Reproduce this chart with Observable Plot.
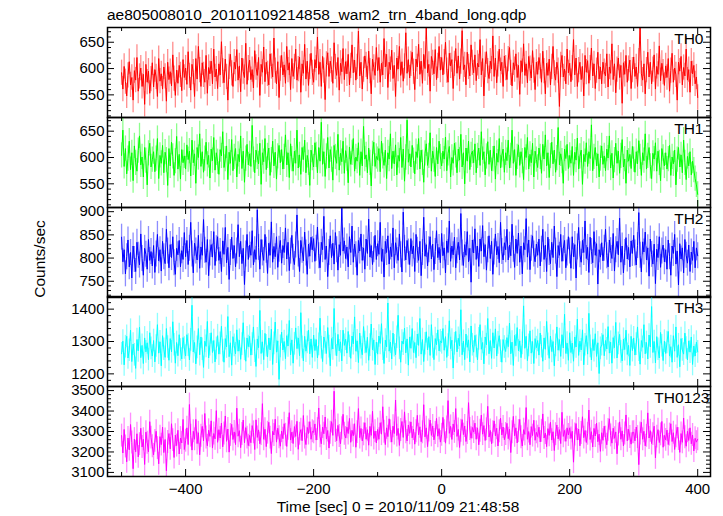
<!DOCTYPE html>
<html><head><meta charset="utf-8">
<script src="https://cdn.jsdelivr.net/npm/d3@7"></script>
<script src="https://cdn.jsdelivr.net/npm/@observablehq/plot@0.6"></script>
<style>
body{margin:0;background:#fff;}
#wrap{position:relative;width:723px;height:516px;overflow:hidden;font-family:"Liberation Sans",Arial,Helvetica,sans-serif;color:#000;background:#fff;}
.abs{position:absolute;white-space:nowrap;line-height:1;}
#title{left:107px;top:7px;font-size:15.5px;}
#xlabel{left:398px;top:499px;font-size:15.5px;transform:translateX(-50%);}
#ylabel{left:40px;top:259px;font-size:15.5px;transform:translate(-50%,-50%) rotate(-90deg);}
.panel{position:absolute;left:0;}
</style>
</head><body>
<div id="wrap">
  <div id="title" class="abs">ae805008010_20101109214858_wam2_trn_4band_long.qdp</div>
  <div id="ylabel" class="abs">Counts/sec</div>
  <div id="xlabel" class="abs">Time [sec] 0 = 2010/11/09 21:48:58</div>
</div>
<script>
// ---- data (count rate per 2 s bin) ----
const tStart = -500, tStep = 2;
const th0 = [
592,561,604,575,548,587,613,569,583,540,596,578,621,557,585,601,566,589,532,608,574,595,553,580,611,
565,598,584,547,619,576,590,561,603,585,538,612,579,594,567,626,581,549,597,572,606,588,558,617,583,
601,570,632,586,559,608,593,547,619,580,642,597,566,611,588,574,625,553,602,590,614,571,637,584,599,
562,609,588,651,595,573,618,584,540,603,627,591,566,612,599,636,578,605,556,620,594,583,648,570,601,
616,579,598,563,634,602,587,621,549,608,593,641,575,612,590,569,628,604,584,658,596,571,613,545,600,
625,588,607,572,642,597,611,560,619,585,603,637,578,599,622,555,609,591,646,580,614,568,603,629,592,
574,617,601,660,589,612,566,623,596,541,608,630,585,614,598,572,649,603,587,621,559,610,594,638,579,
613,590,627,569,605,645,592,616,578,603,671,586,612,561,598,624,607,580,633,595,552,618,602,587,640,
596,621,574,610,588,657,603,627,564,612,598,635,581,606,547,620,599,642,587,613,576,604,668,591,617,
582,609,631,594,560,618,603,646,589,614,572,627,600,679,592,608,557,623,611,590,636,579,605,642,597,
621,588,612,650,596,574,629,605,617,562,609,638,591,624,580,613,672,598,607,569,631,603,586,645,611,
592,626,577,610,603,655,588,619,548,607,632,595,581,614,599,662,585,620,573,608,637,596,612,566,624,
601,579,618,640,592,567,611,598,628,583,606,551,615,594,647,587,609,573,623,600,582,634,596,560,612,
589,621,604,574,633,595,552,610,587,618,569,603,642,591,578,612,596,528,607,625,584,599,571,637,592,
610,575,601,655,588,620,566,597,612,579,604,548,625,593,615,572,601,639,586,609,562,596,631,580,603,
571,612,594,586,628,565,603,591,647,579,609,554,598,620,583,606,534,611,589,625,574,600,616,562,597,
622,585,603,566,614,679,590,578,609,552,597,631,584,612,571,598,626,561,604,589,643,577,610,593,568,
605,583,619,557,596,629,574,601,588,540,612,595,623,569,602,586,637,578,598,555,614,590,606,571,584,
545];
const th1 = [
604,652,583,617,569,598,631,577,609,556,622,590,574,613,641,586,601,563,619,594,548,608,627,582,596,
611,573,598,636,560,604,589,623,571,610,595,547,617,584,629,602,566,593,640,578,606,559,615,590,603,
578,624,596,612,565,633,590,607,551,619,600,645,583,611,572,598,629,587,604,561,616,594,638,576,609,
592,568,615,603,649,581,597,622,558,610,589,634,575,601,617,563,606,592,641,579,612,553,598,625,586,
607,583,661,596,571,614,601,588,627,549,609,592,636,577,603,618,566,595,631,584,610,559,602,623,590,
615,578,601,643,586,609,562,626,597,574,612,589,652,580,605,568,619,596,633,571,604,590,547,614,599,
582,628,605,571,619,593,667,587,611,564,602,638,580,615,596,557,623,601,589,644,576,608,592,631,570,
613,598,552,620,587,609,636,574,601,593,628,566,611,584,659,597,605,571,618,590,546,607,629,583,602,
596,617,573,631,602,585,614,560,609,597,645,579,612,588,624,567,604,593,638,581,616,555,600,671,591,
607,582,623,594,569,611,600,636,578,614,590,553,608,626,585,603,647,574,612,596,564,619,588,631,601,
584,612,597,639,575,608,621,563,600,589,627,604,571,616,595,644,582,609,550,618,593,631,577,605,612,
590,626,571,603,618,585,649,596,611,567,602,630,587,614,575,597,622,559,608,591,636,580,604,616,572,
609,594,633,580,603,652,589,615,566,601,624,585,611,593,558,619,600,638,578,606,590,627,563,612,596,
581,618,601,570,625,597,643,584,609,562,603,629,588,614,572,599,657,586,607,593,551,616,598,625,579,
604,589,621,566,610,595,637,578,602,614,549,606,592,628,583,611,598,662,575,601,619,584,607,563,598,
622,587,603,575,616,599,641,580,608,561,595,627,589,612,570,603,634,582,597,551,614,593,606,579,621,
596,572,611,588,632,601,566,609,594,645,578,603,619,583,560,608,597,628,574,612,590,556,617,600,584,
609,578,597,623,566,601,588,614,548,596,619,582,605,571,633,590,558,602,584,611,567,593,576,560,548,
530];
const th2 = [
845,792,818,766,803,839,781,812,757,826,797,771,834,806,785,852,799,763,821,808,776,840,795,814,783,
827,769,809,851,794,818,772,836,803,788,862,815,779,829,801,846,790,765,821,807,838,781,816,797,855,
803,838,786,821,877,809,768,832,815,796,849,778,824,806,883,817,791,840,762,811,829,802,857,784,820,
846,795,814,771,837,808,866,790,823,754,812,845,799,827,781,815,872,803,836,788,821,743,809,851,797,
828,806,859,785,818,797,904,823,776,840,811,795,851,817,767,832,806,878,791,825,803,846,780,819,838,
789,827,812,865,798,834,773,815,849,802,786,828,893,809,771,838,817,794,856,811,765,830,804,845,818,
842,793,821,867,805,779,834,818,890,797,826,760,812,848,801,832,787,855,818,774,829,806,908,815,837,
799,824,781,846,812,869,791,830,807,763,838,815,852,795,822,776,841,810,884,802,827,786,818,849,797,
831,808,877,793,819,759,836,812,848,787,824,803,865,779,833,815,795,852,807,770,899,821,796,838,813,
786,842,809,826,771,851,817,795,836,762,812,888,804,829,783,818,846,798,830,775,814,859,801,823,790,
853,805,822,768,837,812,880,793,826,807,845,779,816,834,796,896,811,784,829,806,857,792,821,748,839,
811,863,797,826,782,841,815,870,803,829,774,818,848,799,836,765,813,852,807,825,790,877,814,796,833,
818,862,796,828,805,873,819,780,841,810,854,791,826,766,833,818,885,802,839,775,821,848,809,792,830,
806,841,783,819,862,797,828,771,845,812,788,834,801,869,815,760,827,806,851,793,820,838,779,811,846,
815,778,846,803,829,757,824,866,807,791,838,812,880,799,823,769,845,814,790,857,806,831,744,818,802,
833,794,821,862,805,781,839,816,799,853,772,818,836,807,886,791,826,768,812,844,798,823,781,837,810,
849,811,785,827,898,806,770,835,813,856,796,822,761,841,808,787,830,745,819,801,846,780,815,828,792,
818,776,839,803,763,826,810,851,787,815,742,831,798,822,768,840,806,789,828,771,813,795,836,779,822,
805];
const th3 = [
1262,1301,1228,1284,1316,1249,1273,1335,1238,1292,1259,1217,1306,1271,1344,1250,1288,1232,1311,1268,1296,1244,1327,1279,1255,
1303,1237,1286,1352,1264,1299,1225,1318,1276,1251,1340,1283,1242,1309,1268,1361,1290,1233,1297,1256,1321,1274,1246,1312,1280,
1255,1321,1289,1243,1305,1412,1268,1297,1231,1282,1340,1259,1314,1276,1220,1301,1285,1362,1249,1290,1327,1266,1303,1237,1279,
1318,1261,1294,1347,1272,1236,1309,1283,1377,1253,1296,1227,1315,1288,1262,1336,1270,1304,1245,1292,1358,1276,1239,1311,1284,
1316,1258,1292,1345,1270,1223,1308,1281,1396,1263,1299,1244,1325,1287,1252,1311,1274,1338,1229,1294,1360,1267,1302,1183,1285,
1329,1274,1300,1247,1318,1286,1365,1259,1305,1233,1293,1342,1278,1311,1256,1389,1282,1240,1316,1270,1297,1335,1262,1308,1251,
1320,1272,1306,1249,1291,1372,1281,1238,1314,1296,1263,1343,1284,1225,1309,1277,1402,1290,1256,1322,1271,1299,1240,1335,1288,
1307,1264,1331,1285,1248,1317,1293,1376,1270,1302,1235,1326,1281,1259,1346,1297,1266,1313,1242,1289,1354,1274,1305,1229,1298,
1261,1317,1294,1355,1276,1232,1304,1283,1419,1270,1298,1246,1326,1287,1259,1313,1381,1279,1236,1301,1292,1341,1265,1308,1227,
1314,1279,1340,1266,1297,1250,1323,1288,1371,1261,1306,1238,1293,1330,1274,1315,1257,1352,1283,1244,1309,1290,1336,1271,1302,
1296,1340,1273,1315,1251,1289,1364,1278,1304,1218,1293,1331,1268,1310,1286,1398,1259,1301,1244,1323,1282,1305,1237,1348,1290,
1267,1319,1285,1243,1308,1352,1276,1297,1231,1314,1290,1371,1262,1303,1248,1327,1280,1339,1255,1296,1318,1270,1236,1306,1283,
1269,1312,1284,1357,1262,1298,1226,1319,1287,1343,1271,1302,1250,1294,1410,1279,1316,1241,1288,1333,1264,1300,1232,1309,1281,
1303,1258,1326,1284,1239,1311,1276,1362,1291,1248,1317,1269,1300,1225,1288,1345,1273,1306,1254,1321,1280,1384,1263,1295,1242,
1327,1266,1295,1239,1314,1283,1369,1257,1301,1274,1336,1228,1290,1318,1261,1387,1285,1243,1306,1272,1324,1254,1296,1201,1279,
1290,1321,1256,1303,1277,1346,1264,1298,1233,1312,1281,1359,1249,1294,1322,1268,1240,1307,1275,1335,1260,1288,1226,1316,1272,
1311,1258,1292,1345,1273,1230,1303,1282,1352,1262,1297,1246,1320,1283,1408,1266,1300,1234,1315,1276,1249,1328,1287,1241,1301,
1263,1297,1331,1255,1284,1236,1318,1270,1345,1251,1290,1222,1309,1274,1261,1326,1280,1243,1302,1267,1314,1229,1286,1255,1298,
1268];
const th0123 = [
3280,3195,3310,3227,3152,3268,3210,3334,3246,3118,3263,3201,3289,3176,3238,3316,3224,3262,3139,3297,3245,3201,3348,3270,3228,
3186,3254,3301,3219,3142,3275,3236,3322,3197,3261,3108,3249,3290,3215,3338,3258,3173,3282,3231,3306,3190,3268,3244,3359,3212,
3255,3318,3236,3432,3280,3209,3301,3262,3359,3241,3294,3186,3279,3325,3254,3388,3271,3230,3306,3276,3352,3219,3290,3264,3402,
3247,3309,3268,3341,3225,3290,3376,3252,3312,3199,3283,3335,3261,3298,3236,3414,3277,3304,3221,3288,3356,3245,3319,3270,3231,
3281,3245,3329,3296,3212,3357,3271,3308,3240,3287,3436,3262,3311,3226,3294,3345,3270,3192,3301,3283,3360,3248,3316,3272,3228,
3302,3265,3338,3284,3227,3313,3392,3258,3297,3241,3324,3276,3350,3213,3289,3309,3255,3378,3271,3236,3320,3290,3348,3262,3301,
3296,3337,3258,3312,3415,3276,3240,3322,3289,3371,3263,3305,3219,3294,3348,3281,3497,3302,3255,3330,3278,3240,3316,3384,3289,
3268,3321,3290,3364,3247,3306,3279,3338,3223,3297,3412,3270,3315,3254,3286,3343,3262,3309,3233,3325,3281,3399,3266,3302,3244,
3310,3262,3343,3287,3421,3299,3236,3318,3275,3362,3301,3248,3326,3290,3454,3280,3315,3232,3307,3349,3271,3396,3296,3254,3332,
3291,3347,3269,3312,3238,3301,3379,3284,3323,3250,3296,3431,3274,3318,3226,3305,3356,3281,3327,3259,3293,3364,3277,3314,3248,
3284,3369,3302,3243,3320,3451,3291,3325,3261,3337,3298,3412,3276,3310,3222,3304,3358,3285,3327,3251,3293,3441,3312,3267,3320,
3297,3341,3262,3318,3235,3304,3380,3287,3329,3256,3311,3423,3273,3305,3240,3296,3352,3279,3316,3229,3301,3365,3283,3322,3260,
3288,3340,3265,3311,3197,3296,3374,3279,3318,3244,3302,3359,3272,3229,3309,3286,3417,3262,3300,3235,3324,3280,3355,3257,3296,
3275,3321,3249,3303,3386,3268,3292,3226,3314,3281,3345,3258,3299,3207,3287,3332,3264,3309,3241,3394,3276,3305,3252,3318,3283,
3318,3266,3301,3150,3285,3339,3258,3312,3230,3293,3372,3270,3305,3246,3289,3405,3261,3299,3224,3315,3278,3341,3250,3287,3203,
3294,3257,3326,3270,3235,3308,3362,3281,3243,3316,3267,3298,3191,3285,3347,3262,3303,3229,3290,3381,3254,3311,3273,3238,3296,
3296,3254,3322,3273,3138,3290,3345,3262,3301,3230,3279,3391,3268,3304,3241,3287,3326,3171,3275,3309,3246,3286,3349,3223,3281,
3259,3307,3236,3285,3338,3251,3294,3212,3276,3321,3263,3198,3290,3247,3366,3272,3228,3301,3256,3318,3240,3283,3205,3267,3248,
3262];
// 1-sigma errors per band
const errors = [24, 24, 28, 35, 56];
const bandNames = ["TH0", "TH1", "TH2", "TH3", "TH0123"];
const bandColors = ["#ff0000", "#00ff00", "#0000ff", "#00ffff", "#ff00ff"];
const yDomains = [[507, 678], [505, 676], [715, 909], [1161, 1439], [3080, 3520]];
const yMajor = [[550, 600, 650], [550, 600, 650], [750, 800, 850, 900], [1200, 1300, 1400], [3100, 3200, 3300, 3400, 3500]];
const yMinor = [
  [510,520,530,540,560,570,580,590,610,620,630,640,660,670],
  [510,520,530,540,560,570,580,590,610,620,630,640,660,670],
  [720,730,740,760,770,780,790,810,820,830,840,860,870,880,890],
  [1180,1220,1240,1260,1280,1320,1340,1360,1380,1420],
  [3120,3140,3160,3180,3220,3240,3260,3280,3320,3340,3360,3380,3420,3440,3460,3480]
];
const xMajor = [-400, -200, 0, 200, 400];
const xMinor = [-500, -300, -100, 100, 300];
const series = [th0, th1, th2, th3, th0123];

// ---- layout ----
const W = 723, ML = 107, MR = 13, innerW = W - ML - MR;
const panelTops = [27, 117, 207, 296, 386];
const panelH = 90;
const xDomain = [-522, 420];
const font = "Liberation Sans, Arial, Helvetica, sans-serif";
const labelDx = [-7, -7, -7, -7, -1];

const wrap = document.getElementById("wrap");
series.forEach((vals, k) => {
  const data = vals.map((v, i) => ({t: tStart + i * tStep, v, e: errors[k]}));
  const last = k === series.length - 1;
  const mb = last ? 40 : 0;
  const marks = [
    Plot.ruleX(data, {x: "t", y1: d => d.v - d.e, y2: d => d.v + d.e, stroke: bandColors[k], strokeOpacity: 0.45, strokeWidth: 1.3, clip: true}),
    Plot.line(data, {x: "t", y: "v", stroke: bandColors[k], strokeWidth: 1, clip: true}),
    Plot.tickY(yMajor[k], {y: d => d, insetRight: innerW - 7, stroke: "#000"}),
    Plot.tickY(yMajor[k], {y: d => d, insetLeft: innerW - 7, stroke: "#000"}),
    Plot.tickY(yMinor[k], {y: d => d, insetRight: innerW - 4, stroke: "#000"}),
    Plot.tickY(yMinor[k], {y: d => d, insetLeft: innerW - 4, stroke: "#000"}),
    Plot.tickX(xMajor, {x: d => d, insetBottom: panelH - 7, stroke: "#000"}),
    Plot.tickX(xMajor, {x: d => d, insetTop: panelH - 7, stroke: "#000"}),
    Plot.tickX(xMinor, {x: d => d, insetBottom: panelH - 4, stroke: "#000"}),
    Plot.tickX(xMinor, {x: d => d, insetTop: panelH - 4, stroke: "#000"}),
    Plot.axisY(yMajor[k], {tickSize: 0, tickPadding: 3, fontSize: 15, tickFormat: d3.format("d"), fill: "#000", label: null}),
    Plot.text([bandNames[k]], {frameAnchor: "top-right", text: d => d, textAnchor: "end", lineAnchor: "top", dx: labelDx[k], dy: 5.5, fontSize: 15.5, fill: "#000"}),
    Plot.frame({stroke: "#000", strokeWidth: 1.5})
  ];
  if (last) {
    marks.push(Plot.axisX(xMajor, {tickSize: 0, tickPadding: 7, fontSize: 15, tickFormat: d3.format("d"), fill: "#000", label: null}));
  }
  const svg = Plot.plot({
    width: W,
    height: panelH + mb,
    marginLeft: ML,
    marginRight: MR,
    marginTop: 0,
    marginBottom: mb,
    style: {background: "transparent", overflow: "visible", fontFamily: font, fontSize: "15px", color: "#000"},
    x: {domain: xDomain, axis: null, label: null},
    y: {domain: yDomains[k], axis: null, label: null},
    marks
  });
  svg.classList.add("panel");
  svg.style.position = "absolute";
  svg.style.left = "0px";
  svg.style.top = panelTops[k] + "px";
  wrap.appendChild(svg);
});
</script>
</body></html>
